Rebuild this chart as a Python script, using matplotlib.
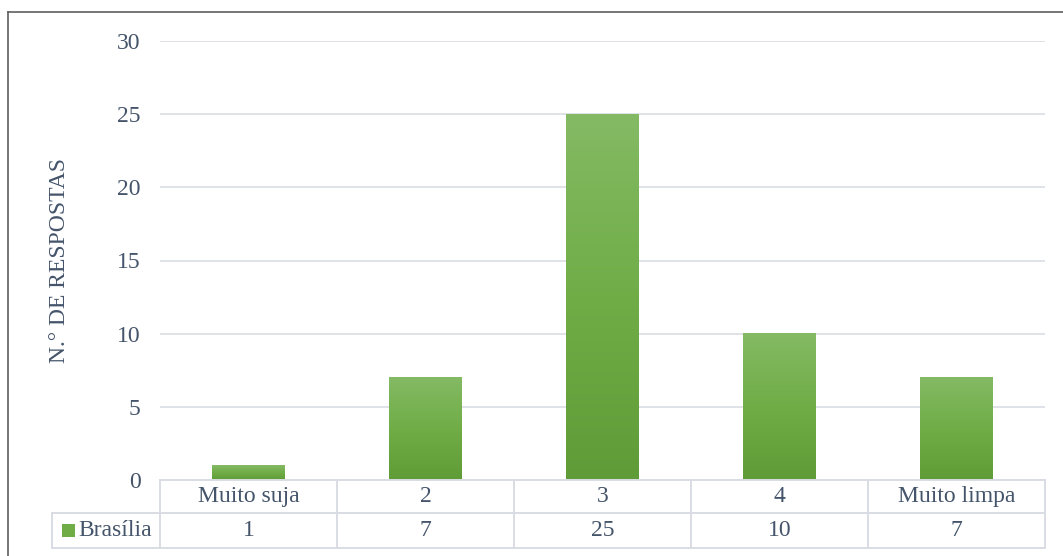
import numpy as np
import matplotlib
matplotlib.use('Agg')
import matplotlib.pyplot as plt
from matplotlib.colors import LinearSegmentedColormap
from matplotlib.lines import Line2D
from matplotlib.patches import Rectangle

# Dados da pesquisa
categorias = ['Muito suja', '2', '3', '4', 'Muito limpa']
valores = [1, 7, 25, 10, 7]
serie = 'Brasília'
yticks = [0, 5, 10, 15, 20, 25, 30]

plt.rcParams['font.family'] = ['Liberation Serif', 'DejaVu Serif']
fonte = 'Liberation Serif'
cor_texto = '#44546a'
cor_grade = '#d9dde3'
tam = 17

W, H = 1063, 556
fig = plt.figure(figsize=(W / 100, H / 100), dpi=100)

# área do gráfico em pixels
x0, x1 = 160, 1045
y_top, y_bot = 41, 480
ax = fig.add_axes([x0 / W, 1 - y_bot / H, (x1 - x0) / W, (y_bot - y_top) / H])

# barras com degradê vertical (mais clara em cima)
cmap = LinearSegmentedColormap.from_list('verde', ['#84ba64', '#70ad47', '#5f9c37'])
grad = np.linspace(0, 1, 256).reshape(-1, 1)
larg = 0.41
for i, v in enumerate(valores):
    ax.imshow(grad, cmap=cmap, extent=(i - larg / 2, i + larg / 2, 0, v),
              aspect='auto', origin='upper', zorder=3, interpolation='bilinear')

ax.set_xlim(-0.5, len(categorias) - 0.5)
ax.set_ylim(0, 30)
ax.set_yticks(yticks)
ax.set_xticks([])
ax.tick_params(axis='y', length=0, pad=14, labelsize=tam, labelcolor=cor_texto)
ax.grid(axis='y', color=cor_grade, linewidth=1.2, zorder=0)
for s in ax.spines.values():
    s.set_visible(False)
ax.set_ylabel('N.° DE RESPOSTAS', fontsize=tam, color=cor_texto, labelpad=34, family=fonte)

# tabela de dados abaixo do eixo
def fx(px):
    return px / W

def fy(py):
    return 1 - py / H

r0, r1, r2 = 480, 513, 548
xl = 52
cel = (x1 - x0) / len(categorias)
linhas = [
    ((x0, x1), (r0, r0)),
    ((xl, x1), (r1, r1)),
    ((xl, x1), (r2, r2)),
    ((xl, xl), (r1, r2)),
]
for k in range(len(categorias) + 1):
    xv = x0 + k * cel
    linhas.append(((xv, xv), (r0, r2)))
for (xa, xb), (ya, yb) in linhas:
    fig.add_artist(Line2D([fx(xa), fx(xb)], [fy(ya), fy(yb)], color=cor_grade, linewidth=1.4))

for k, (cat, v) in enumerate(zip(categorias, valores)):
    xc = x0 + (k + 0.5) * cel
    fig.text(fx(xc), fy((r0 + r1) / 2), cat, ha='center', va='center', fontsize=tam,
             color=cor_texto, family=fonte)
    fig.text(fx(xc), fy((r1 + r2) / 2), str(v), ha='center', va='center', fontsize=tam,
             color=cor_texto, family=fonte)

# legenda da série na tabela
fig.add_artist(Rectangle((fx(62), fy(537)), 13 / W, 13 / H, facecolor='#70ad47', edgecolor='none'))
fig.text(fx(78), fy((r1 + r2) / 2), serie, ha='left', va='center', fontsize=tam,
         color=cor_texto, family=fonte)

# moldura
fig.add_artist(Line2D([fx(7.5), 1], [fy(11.5), fy(11.5)], color='#5f5f5f', linewidth=1.2))
fig.add_artist(Line2D([fx(7.5), fx(7.5)], [fy(11.5), 0], color='#5f5f5f', linewidth=1.2))

fig.savefig('out.png', dpi=100)
